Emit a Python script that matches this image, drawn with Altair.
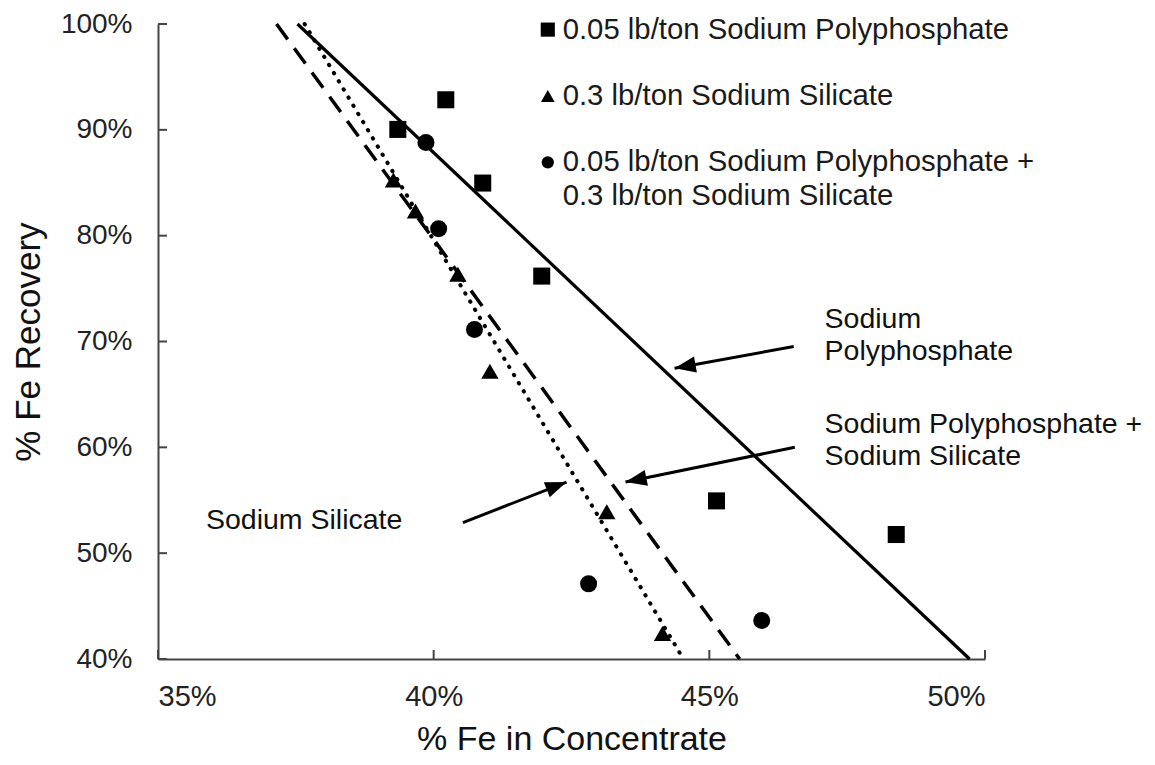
import math
import altair as alt
import pandas as pd

# ---------------- data ----------------
poly_x = [39.35, 40.22, 40.89, 41.96, 45.13, 48.39]
poly_y = [90.04, 92.84, 84.97, 76.18, 54.94, 51.76]
sil_x = [39.27, 39.67, 40.44, 41.02, 43.14, 44.15]
sil_y = [85.25, 82.33, 76.36, 67.20, 53.92, 42.42]
comb_x = [39.86, 40.09, 40.74, 42.81, 45.95]
comb_y = [88.80, 80.66, 71.14, 47.10, 43.64]

trend_names = ["Sodium Polyphosphate", "Sodium Polyphosphate + Sodium Silicate", "Sodium Silicate"]
trend_x_start = [37.53, 37.15, 37.66]
trend_y_start = [100.0, 100.0, 100.0]
trend_x_end = [49.72, 45.55, 44.53]
trend_y_end = [40.0, 40.0, 40.0]

legend_labels = ["0.05 lb/ton Sodium Polyphosphate", "0.3 lb/ton Sodium Silicate",
                 "0.05 lb/ton Sodium Polyphosphate +", "0.3 lb/ton Sodium Silicate"]
legend_shapes = ["square", "triangle-up", "circle"]
legend_row_y = [99.47, 93.20, 86.93, 83.75]
legend_mark_x = 42.07
legend_text_x = 42.34

note_texts = ["Sodium", "Polyphosphate", "Sodium Polyphosphate +", "Sodium Silicate", "Sodium Silicate"]
note_x = [47.09, 47.09, 47.09, 47.09, 35.87]
note_y = [72.15, 69.06, 62.24, 59.15, 53.16]

arrow_tail_x = [46.53, 46.55, 40.53]
arrow_tail_y = [69.53, 60.00, 52.88]
arrow_tip_x = [44.37, 43.48, 42.41]
arrow_tip_y = [67.47, 56.72, 56.72]

x_ticks = [35, 40, 45, 50]
y_ticks = [40, 50, 60, 70, 80, 90, 100]
x_domain = [35, 50]
y_domain = [40, 100]

# ---------------- layout / style ----------------
W, H = 827, 635
FONT = "Liberation Sans"
AXIS_C = "#444444"

xs = alt.Scale(domain=x_domain, nice=False, zero=False)
ys = alt.Scale(domain=y_domain, nice=False, zero=False)

x_axis = alt.Axis(
    values=x_ticks, labelExpr="datum.value + '%'", ticks=False, tickSize=0,
    grid=False, domainColor=AXIS_C, domainWidth=2,
    labelFont=FONT, labelFontSize=29, labelColor="#222222", labelPadding=23,
    labelBaseline="top",
    title="% Fe in Concentrate", titleFont=FONT, titleFontSize=34,
    titleFontWeight="normal", titleColor="#111111",
    titleX=W / 2, titleY=90, titleBaseline="alphabetic", titleAnchor="middle")
y_axis = alt.Axis(
    values=y_ticks, labelExpr="datum.value + '%'", ticks=False, tickSize=0,
    grid=False, domainColor=AXIS_C, domainWidth=2,
    labelFont=FONT, labelFontSize=28, labelColor="#222222", labelPadding=26,
    title="% Fe Recovery", titleFont=FONT, titleFontSize=35,
    titleFontWeight="normal", titleColor="#111111",
    titleX=-130, titleY=H / 2, titleBaseline="middle", titleAngle=-90,
    titleAnchor="middle")


def X(field):
    return alt.X(field, type="quantitative", scale=xs, axis=x_axis)


def Y(field):
    return alt.Y(field, type="quantitative", scale=ys, axis=y_axis)


# inward ticks
ytick_df = pd.DataFrame({"v": y_ticks})
xtick_df = pd.DataFrame({"v": x_ticks})
yticks = alt.Chart(ytick_df).mark_rule(color=AXIS_C, strokeWidth=2).encode(
    y=Y("v"), x=alt.value(0), x2=alt.value(9))
xticks = alt.Chart(xtick_df).mark_rule(color=AXIS_C, strokeWidth=2).encode(
    x=X("v"), y=alt.value(H), y2=alt.value(H - 9))

# trend lines
trend_df = pd.DataFrame({"name": trend_names, "x": trend_x_start, "y": trend_y_start,
                         "x2": trend_x_end, "y2": trend_y_end})


def trend(i, **style):
    return alt.Chart(trend_df.iloc[[i]]).mark_rule(color="#000000", **style).encode(
        x=X("x"), y=Y("y"), x2="x2:Q", y2="y2:Q")


solid = trend(0, strokeWidth=3.2)
dashed = trend(1, strokeWidth=3.5, strokeDash=[19, 11])
dotted = trend(2, strokeWidth=4, strokeDash=[0.5, 9], strokeCap="round")


# scatter points
def points(xv, yv, shape, size):
    df = pd.DataFrame({"x": xv, "y": yv})
    return alt.Chart(df).mark_point(shape=shape, filled=True, color="#000000",
                                    opacity=1, size=size).encode(x=X("x"), y=Y("y"))


sq = points(poly_x, poly_y, "square", 290)
tri = points(sil_x, sil_y, "triangle-up", 300)
cir = points(comb_x, comb_y, "circle", 290)

# legend (manual)
leg_sizes = [200, 190, 150]
leg_marks = []
for i, shp in enumerate(legend_shapes):
    ldf = pd.DataFrame({"x": [legend_mark_x], "y": [legend_row_y[i]]})
    leg_marks.append(alt.Chart(ldf).mark_point(shape=shp, filled=True, color="#000000",
                                               opacity=1, size=leg_sizes[i]).encode(
        x=X("x"), y=Y("y")))
leg_text_df = pd.DataFrame({"t": legend_labels, "x": [legend_text_x] * 4, "y": legend_row_y})
leg_text = alt.Chart(leg_text_df).mark_text(
    align="left", baseline="middle", font=FONT, fontSize=29.3, color="#1a1a1a").encode(
    x=X("x"), y=Y("y"), text="t:N")

# annotations
note_df = pd.DataFrame({"t": note_texts, "x": note_x, "y": note_y})
notes = alt.Chart(note_df).mark_text(
    align="left", baseline="middle", font=FONT, fontSize=28.5, color="#111111").encode(
    x=X("x"), y=Y("y"), text="t:N")

px_x = W / (x_domain[1] - x_domain[0])
px_y = H / (y_domain[1] - y_domain[0])
angles = []
for tx, ty, hx, hy in zip(arrow_tail_x, arrow_tail_y, arrow_tip_x, arrow_tip_y):
    dx = (hx - tx) * px_x
    dy = -(hy - ty) * px_y
    angles.append(math.degrees(math.atan2(dx, -dy)) % 360)

arrow_df = pd.DataFrame({"x": arrow_tail_x, "y": arrow_tail_y,
                         "x2": arrow_tip_x, "y2": arrow_tip_y, "ang": angles})
arrow_lines = alt.Chart(arrow_df).mark_rule(color="#000000", strokeWidth=3).encode(
    x=X("x"), y=Y("y"), x2="x2:Q", y2="y2:Q")
arrow_heads = alt.Chart(arrow_df).mark_point(
    shape="M0,0L-0.38,1L0.38,1Z", filled=True, color="#000000", opacity=1, size=1800).encode(
    x=X("x2"), y=Y("y2"), angle=alt.Angle("ang:Q", scale=None))

chart = alt.layer(
    yticks, xticks, solid, dashed, dotted, arrow_lines, arrow_heads,
    sq, tri, cir, *leg_marks, leg_text, notes,
).properties(
    width=W, height=H,
    padding={"left": 150, "top": 16, "right": 162, "bottom": 98},
    autosize=alt.AutoSizeParams(type="none"),
    background="white",
).configure_view(stroke=None)

chart.save("out.html", embed_options={"renderer": "svg", "actions": False})
